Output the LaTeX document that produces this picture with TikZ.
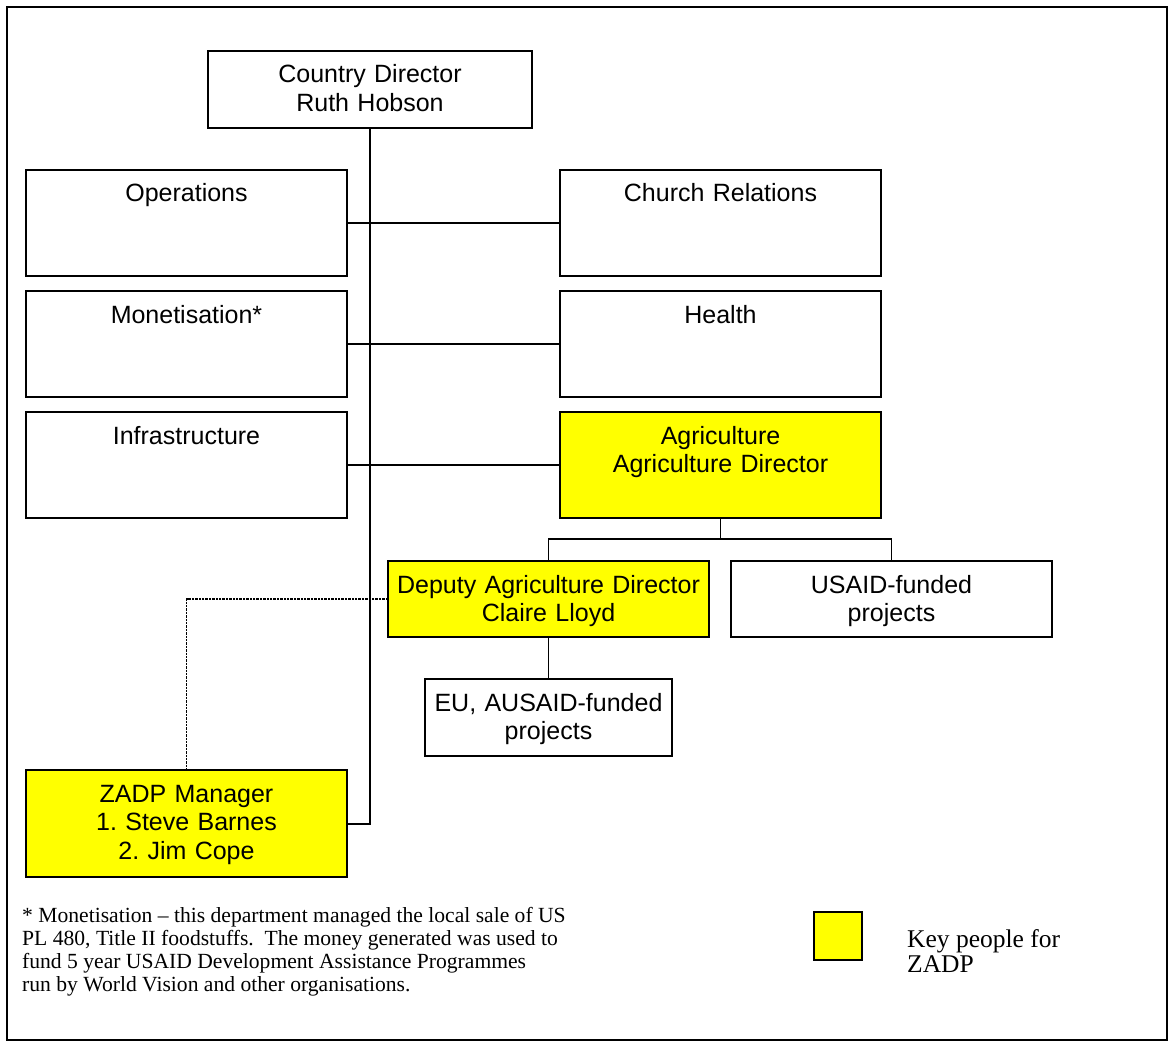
\documentclass[tikz,border=0pt]{standalone}
\usepackage{fontspec}
\setmainfont{Liberation Serif}
\setsansfont{Liberation Sans}
\usetikzlibrary{positioning}
\definecolor{keyyellow}{RGB}{255,255,0}

\begin{document}
\begin{tikzpicture}[x=1pt,y=-1pt,
  unit/.style={draw,rectangle,line width=1.3pt,inner sep=0pt,outer sep=0pt,align=center,
    font=\sffamily\fontsize{25}{28.5}\selectfont\frenchspacing,
    text width=321pt,text height=32pt,text depth=74pt},
  keyunit/.style={unit,fill=keyyellow},
  link/.style={line width=1.3pt},
  dotlink/.style={line width=1.6pt,dash pattern=on 2.4pt off 1pt}]
  \useasboundingbox (0,0) rectangle (1172,1043);
  \draw[line width=2.4pt] (7,7) rectangle (1167,1040);

  % head of the office
  \node[unit,text width=324pt,text depth=45pt,anchor=north] (cd) at (370,51) {Country Director\\Ruth Hobson};

  % departments in two columns
  \node[unit,anchor=north west] (ops) at (26,170) {Operations};
  \node[unit] (mon) [below=15pt of ops] {Monetisation*};
  \node[unit] (infra) [below=15pt of mon] {Infrastructure};
  \node[unit] (church) [right=213pt of ops] {Church Relations};
  \node[unit] (health) [right=213pt of mon] {Health};
  \node[keyunit] (agr) [right=213pt of infra] {Agriculture\\Agriculture Director};

  % agriculture
  \node[keyunit,text depth=44pt,anchor=north west] (dep) at (388,561) {Deputy Agriculture Director\\Claire Lloyd};
  \node[unit,text depth=44pt] (usaid) [right=22pt of dep] {USAID-funded\\projects};
  \node[unit,text width=247pt,text depth=45pt] (eu) [below=42pt of dep] {EU, AUSAID-funded\\projects};
  \node[keyunit,text depth=75pt,anchor=north west] (zadp) at (26,770) {ZADP Manager\\1. Steve Barnes\\2. Jim Cope};

  \draw[line width=2pt] (cd.south) |- (zadp.east);
  \draw[link] (ops.east) -- (church.west);
  \draw[link] (mon.east) -- (health.west);
  \draw[link] (infra.east) -- (agr.west);
  \draw[link] (agr.south) -- ++(0,21) coordinate (bus) -| (dep.north);
  \draw[link] (bus) -| (usaid.north);
  \draw[link] (dep.south) -- (eu.north);
  \draw[dotlink] (dep.west) -| (zadp.north);

  % footnote and key
  \node[anchor=north west,align=left,inner sep=0pt,font=\fontsize{21.6}{23}\selectfont] (note) at (22,907)
    {* Monetisation -- this department managed the local sale of US\\
     PL 480, Title II foodstuffs.\ \ The money generated was used to\\
     fund 5 year USAID Development Assistance Programmes\\
     run by World Vision and other organisations.};
  \node[draw,line width=1.3pt,fill=keyyellow,minimum size=48pt,inner sep=0pt] (keysq) at (838,936) {};
  \node[anchor=west,align=left,inner sep=0pt,font=\fontsize{25.5}{25.5}\selectfont] (keytxt) at (907,951) {Key people for\\ZADP};
\end{tikzpicture}
\end{document}
